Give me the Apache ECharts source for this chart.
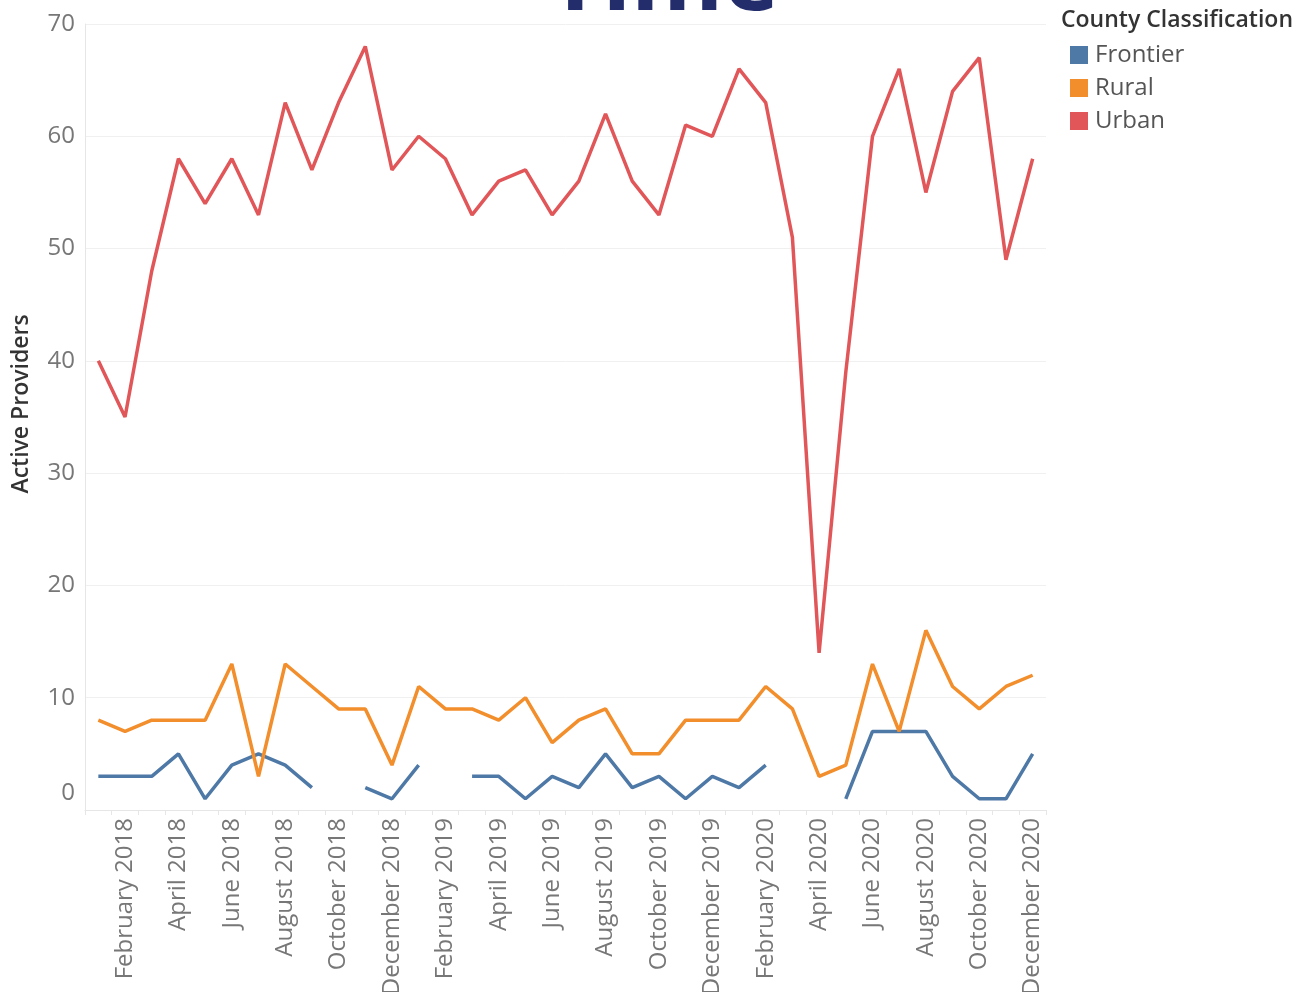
<!DOCTYPE html>
<html>
<head>
<meta charset="utf-8">
<title>Active Providers</title>
<script src="https://cdn.jsdelivr.net/npm/echarts@6/dist/echarts.min.js"></script>
<style>
  html, body { margin: 0; padding: 0; background: #fff; }
  #main { width: 1302px; height: 992px; }
</style>
</head>
<body>
<div id="main"></div>
<script>
// months Jan 2018 .. Dec 2020
var months = [
  'January 2018', 'February 2018', 'March 2018', 'April 2018', 'May 2018', 'June 2018',
  'July 2018', 'August 2018', 'September 2018', 'October 2018', 'November 2018', 'December 2018',
  'January 2019', 'February 2019', 'March 2019', 'April 2019', 'May 2019', 'June 2019',
  'July 2019', 'August 2019', 'September 2019', 'October 2019', 'November 2019', 'December 2019',
  'January 2020', 'February 2020', 'March 2020', 'April 2020', 'May 2020', 'June 2020',
  'July 2020', 'August 2020', 'September 2020', 'October 2020', 'November 2020', 'December 2020'
];

var frontier = [3, 3, 3, 5, 1, 4, 5, 4, 2, null, 2, 1,
                4, null, 3, 3, 1, 3, 2, 5, 2, 3, 1, 3,
                2, 4, null, null, 1, 7, 7, 7, 3, 1, 1, 5];
var rural = [8, 7, 8, 8, 8, 13, 3, 13, 11, 9, 9, 4,
             11, 9, 9, 8, 10, 6, 8, 9, 5, 5, 8, 8,
             8, 11, 9, 3, 4, 13, 7, 16, 11, 9, 11, 12];
var urban = [40, 35, 48, 58, 54, 58, 53, 63, 57, 63, 68, 57,
             60, 58, 53, 56, 57, 53, 56, 62, 56, 53, 61, 60,
             66, 63, 51, 14, 39, 60, 66, 55, 64, 67, 49, 58];

var seriesNames = ['Frontier', 'Rural', 'Urban'];
var colorList = ['#4e79a7', '#f28e2b', '#e15759'];

var myChart = echarts.init(document.getElementById('main'));

function lineSeries(name, data) {
  return {
    name: name,
    type: 'line',
    data: data,
    showSymbol: false,
    connectNulls: false,
    lineStyle: { width: 3.5 },
    emphasis: { disabled: true }
  };
}

var option = {
  animation: false,
  color: colorList,
  textStyle: { fontFamily: 'Open Sans' },
  // labels run off the bottom edge in the original, so no auto shrink
  grid: { left: 85, right: 256, top: 24, bottom: 182, outerBoundsMode: 'none' },
  graphic: [
    {
      // title, mostly cut off at the top
      type: 'text',
      left: 548,
      top: -64,
      style: { text: 'Time', fontSize: 94, fontWeight: 'bold', fill: '#232d6b', fontFamily: 'Open Sans' }
    },
    {
      type: 'text',
      left: 1061,
      top: 9,
      style: { text: 'County Classification', fontSize: 23, fontWeight: 600, fill: '#333', fontFamily: 'Open Sans' }
    }
  ],
  legend: {
    data: seriesNames,
    orient: 'vertical',
    left: 1065,
    top: 38,
    icon: 'rect',
    itemWidth: 18,
    itemHeight: 18,
    itemGap: 9,
    textStyle: { fontSize: 24, color: '#555', fontFamily: 'Open Sans', padding: [0, 0, 0, 2] }
  },
  xAxis: {
    type: 'category',
    data: months,
    boundaryGap: true,
    axisLine: { lineStyle: { color: '#e6e6e6' } },
    axisTick: { show: true, interval: 0, length: 5, lineStyle: { color: '#e6e6e6' } },
    axisLabel: {
      rotate: 90,
      fontSize: 24,
      color: '#777',
      margin: 8,
      interval: function (index) { return index % 2 === 1; }
    }
  },
  yAxis: {
    type: 'value',
    name: 'Active Providers',
    nameLocation: 'middle',
    nameGap: 52,
    nameTextStyle: { fontSize: 23, fontWeight: 600, color: '#333', padding: [0, 0, 0, 26] },
    min: 0,
    max: 70,
    interval: 10,
    axisLine: { show: true, lineStyle: { color: '#e6e6e6' } },
    axisTick: { show: false },
    splitLine: { lineStyle: { color: '#f0f0f0' } },
    axisLabel: {
      fontSize: 24,
      color: '#777',
      margin: 10,
      formatter: function (v) { return v === 0 ? '{z|0}' : v; },
      rich: { z: { fontSize: 24, color: '#777', padding: [0, 0, 34, 0] } }
    }
  },
  series: [
    lineSeries('Frontier', frontier),
    lineSeries('Rural', rural),
    lineSeries('Urban', urban)
  ]
};
myChart.setOption(option);
</script>
</body>
</html>
